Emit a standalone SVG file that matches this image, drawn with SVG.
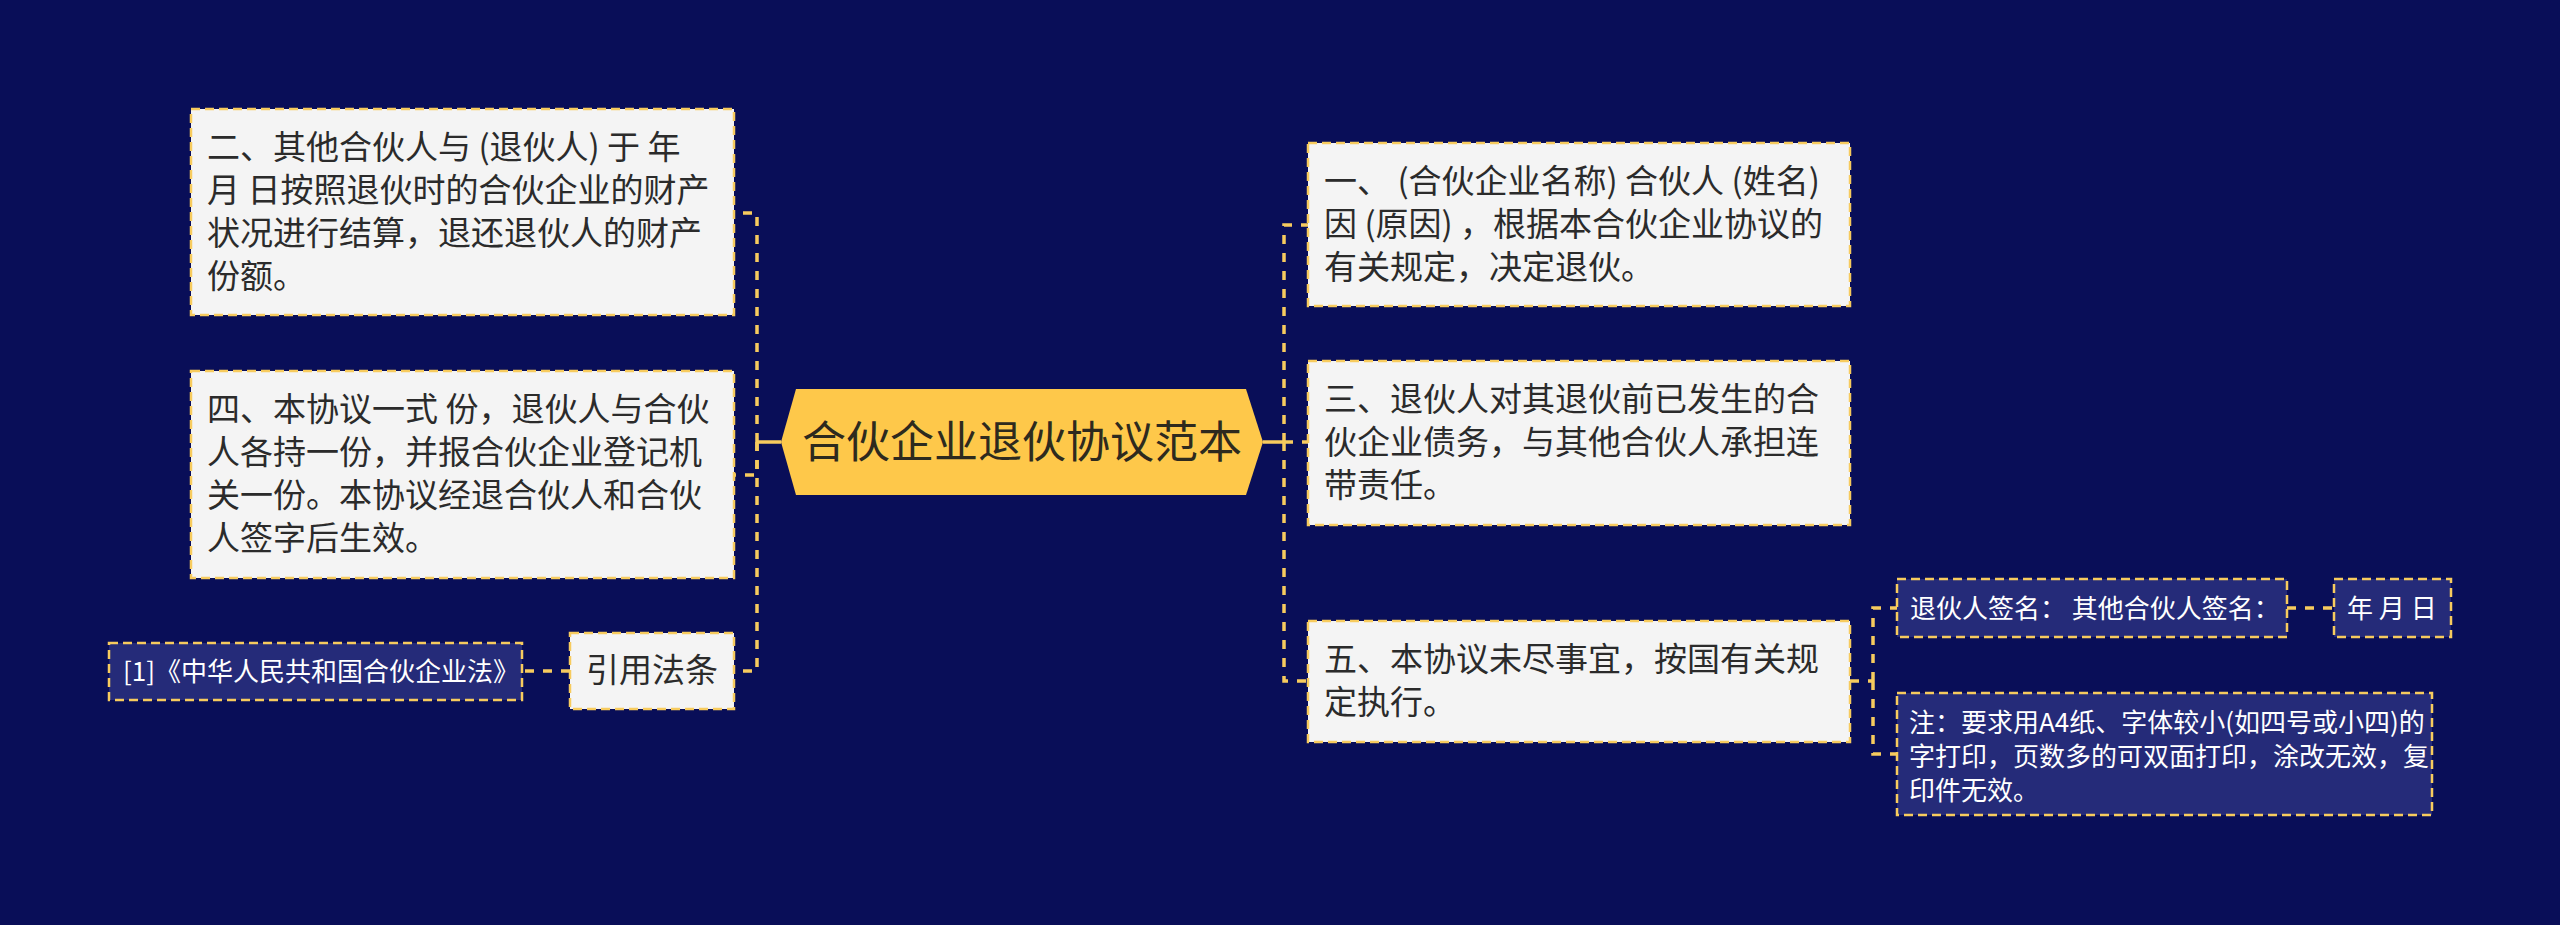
<svg xmlns="http://www.w3.org/2000/svg" width="2560" height="925" viewBox="0 0 2560 925">
<style>
.bg{fill:#090E58}
.lb{fill:#F4F4F4;stroke:#F7CB5E;stroke-width:2.5;stroke-dasharray:9 5}
.db{fill:#252B79;stroke:#F7CB5E;stroke-width:2.5;stroke-dasharray:9 5}
.t{font-family:"Noto Sans CJK SC","Noto Sans",sans-serif;font-size:33px;fill:#2B2B2B}
.s{font-family:"Noto Sans CJK SC","Noto Sans",sans-serif;font-size:26px;fill:#FFFFFF}
.c{fill:none;stroke:#F7CB5E;stroke-width:3.5;stroke-dasharray:9 9}
.cs{fill:none;stroke:#F7CB5E;stroke-width:3.5}
</style>
<rect class="bg" x="0" y="0" width="2560" height="925"/>
<g id="connectors">
<line class="cs" x1="781" y1="442" x2="757" y2="442"/>
<path class="c" d="M757 442 V213 H734"/>
<path class="c" d="M757 442 V475 H734"/>
<path class="c" d="M757 442 V671 H734"/>
<line class="c" x1="570" y1="671" x2="522" y2="671"/>
<line class="cs" x1="1263" y1="442" x2="1284" y2="442"/>
<path class="c" d="M1284 442 V225 H1308"/>
<path class="c" d="M1284 442 H1308"/>
<path class="c" d="M1284 442 V681 H1308"/>
<path class="c" d="M1850 681 H1873"/>
<path class="c" d="M1873 681 V608 H1897"/>
<path class="c" d="M1873 681 V754 H1897"/>
<line class="c" x1="2287" y1="608" x2="2334" y2="608"/>
</g>
<g id="center">
<polygon points="781,442 796,389 1246,389 1263,442 1246,495 796,495" fill="#FEC84A"/>
<text x="1022" y="458" text-anchor="middle" font-family="Noto Sans CJK SC, Noto Sans, sans-serif" font-size="44" fill="#2E2A1E">合伙企业退伙协议范本</text>
</g>
<g id="node-er">
<rect class="lb" x="191" y="109" width="543" height="206"/>
<text class="t" x="207" y="159">二、其他合伙人与 (退伙人) 于 年</text>
<text class="t" x="207" y="202">月 日按照退伙时的合伙企业的财产</text>
<text class="t" x="207" y="245">状况进行结算，退还退伙人的财产</text>
<text class="t" x="207" y="288">份额。</text>
</g>
<g id="node-si">
<rect class="lb" x="191" y="371" width="543" height="207"/>
<text class="t" x="207" y="421">四、本协议一式 份，退伙人与合伙</text>
<text class="t" x="207" y="464">人各持一份，并报合伙企业登记机</text>
<text class="t" x="207" y="507">关一份。本协议经退合伙人和合伙</text>
<text class="t" x="207" y="550">人签字后生效。</text>
</g>
<g id="node-yinyong">
<rect class="lb" x="570" y="633" width="164" height="76"/>
<text class="t" x="652" y="682" text-anchor="middle">引用法条</text>
</g>
<g id="node-ref">
<rect class="db" x="109" y="643" width="413" height="57"/>
<text class="s" x="123" y="681">[1]《中华人民共和国合伙企业法》</text>
</g>
<g id="node-yi">
<rect class="lb" x="1308" y="143" width="542" height="163"/>
<text class="t" x="1324" y="193">一、 (合伙企业名称) 合伙人 (姓名)</text>
<text class="t" x="1324" y="236">因 (原因) ，根据本合伙企业协议的</text>
<text class="t" x="1324" y="279">有关规定，决定退伙。</text>
</g>
<g id="node-san">
<rect class="lb" x="1308" y="361" width="542" height="164"/>
<text class="t" x="1324" y="411">三、退伙人对其退伙前已发生的合</text>
<text class="t" x="1324" y="454">伙企业债务，与其他合伙人承担连</text>
<text class="t" x="1324" y="497">带责任。</text>
</g>
<g id="node-wu">
<rect class="lb" x="1308" y="621" width="542" height="121"/>
<text class="t" x="1324" y="671">五、本协议未尽事宜，按国有关规</text>
<text class="t" x="1324" y="714">定执行。</text>
</g>
<g id="node-sign">
<rect class="db" x="1897" y="579" width="390" height="58"/>
<text class="s" x="1910" y="618">退伙人签名： 其他合伙人签名：</text>
</g>
<g id="node-date">
<rect class="db" x="2334" y="579" width="117" height="58"/>
<text class="s" x="2347" y="618">年 月 日</text>
</g>
<g id="node-note">
<rect class="db" x="1897" y="693" width="535" height="122"/>
<text class="s" x="1909" y="732">注：要求用A4纸、字体较小(如四号或小四)的</text>
<text class="s" x="1909" y="766">字打印，页数多的可双面打印，涂改无效，复</text>
<text class="s" x="1909" y="800">印件无效。</text>
</g>
</svg>
